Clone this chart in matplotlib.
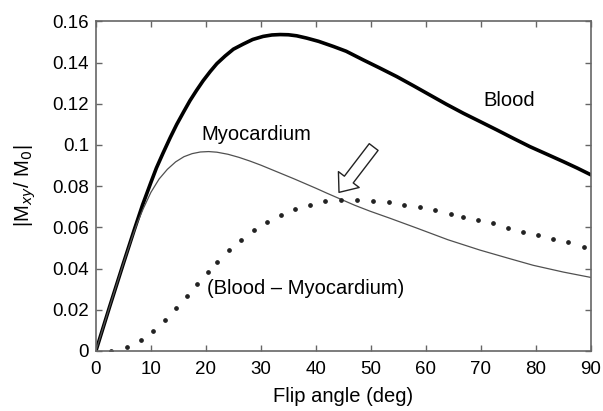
import numpy as np
import matplotlib.pyplot as plt

plt.rcParams['font.family'] = ['Liberation Sans', 'DejaVu Sans']

# Blood (thick line)
blood_angle = [0, 2.5, 5.0, 7.0, 8.5, 10.0, 11.0, 12.2, 13.5, 14.7, 16.0, 17.1, 18.3,
               19.5, 20.8, 22.0, 23.5, 25.0, 26.8, 28.5, 30.4, 32.0, 33.5, 35.0, 36.5,
               38.3, 40.5, 43.2, 45.5, 48.6, 51.5, 54.7, 57.7, 60.7, 63.7, 66.8, 69.9,
               72.9, 75.9, 78.9, 82.0, 85.0, 87.5, 90]
blood_sig = [0, 0.0215, 0.0425, 0.0590, 0.0710, 0.0818, 0.0888, 0.0960, 0.1035, 0.1100,
             0.1163, 0.1215, 0.1265, 0.1312, 0.1357, 0.1395, 0.1432, 0.1465, 0.1490,
             0.1512, 0.1527, 0.1534, 0.1536, 0.1535, 0.1530, 0.1519, 0.1503, 0.1478,
             0.1455, 0.1413, 0.1375, 0.1332, 0.1288, 0.1243, 0.1198, 0.1154, 0.1113,
             0.1073, 0.1032, 0.0992, 0.0955, 0.0919, 0.0888, 0.0855]

# Myocardium (thin line)
myo_angle = [0, 2.5, 5.0, 6.5, 7.5, 8.6, 10.0, 11.5, 13.0, 14.5, 16.0, 17.5, 19.0, 20.5,
             22.0, 24.0, 26.0, 28.0, 30.0, 32.0, 34.0, 36.0, 38.0, 40.0, 42.0, 44.5,
             47.0, 49.8, 53.5, 58.3, 64.0, 69.8, 75.0, 79.5, 85.0, 90]
myo_sig = [0, 0.0215, 0.0425, 0.0545, 0.0620, 0.0690, 0.0770, 0.0835, 0.0882, 0.0918,
           0.0943, 0.0958, 0.0966, 0.0968, 0.0965, 0.0955, 0.0940, 0.0922, 0.0902,
           0.0880, 0.0858, 0.0836, 0.0813, 0.0790, 0.0766, 0.0737, 0.0708, 0.0679,
           0.0644, 0.0597, 0.0540, 0.0490, 0.0450, 0.0416, 0.0383, 0.0357]

# Blood - Myocardium (dots)
diff_angle = [2.8, 5.7, 8.2, 10.4, 12.6, 14.5, 16.5, 18.4, 20.3, 22.1, 24.2, 26.4,
              28.7, 31.1, 33.6, 36.2, 38.9, 41.7, 44.5, 47.4, 50.3, 53.3, 56.1, 58.9,
              61.7, 64.5, 66.7, 69.5, 72.2, 74.9, 77.7, 80.4, 83.1, 85.9, 88.7]
diff_sig = [0.0, 0.0021, 0.0052, 0.0099, 0.0151, 0.0209, 0.0267, 0.0324, 0.0382, 0.0434,
            0.0490, 0.0540, 0.0588, 0.0628, 0.0662, 0.0688, 0.0709, 0.0726, 0.0731,
            0.0731, 0.0726, 0.0721, 0.0708, 0.0700, 0.0682, 0.0664, 0.0651, 0.0638,
            0.0619, 0.0599, 0.0580, 0.0563, 0.0544, 0.0527, 0.0507]

fig = plt.figure(figsize=(6.03, 4.11), dpi=100)
ax = fig.add_axes([0.159, 0.146, 0.821, 0.802])

ax.plot(blood_angle, blood_sig, color='black', lw=2.6, solid_capstyle='round',
        solid_joinstyle='round')
ax.plot(myo_angle, myo_sig, color='#505050', lw=0.9)
ax.plot(diff_angle, diff_sig, ls='none', marker='o', ms=2.4, color='#222222')

ax.text(70.5, 0.1216, 'Blood', fontsize=14.5, va='center')
ax.text(19.2, 0.1049, 'Myocardium', fontsize=14.5, va='center')
ax.text(20.2, 0.0305, '(Blood \u2013 Myocardium)', fontsize=14.5, va='center')

ax.annotate('', xy=(44.2, 0.0770), xytext=(50.5, 0.0990),
            arrowprops=dict(arrowstyle='simple,head_length=0.58,head_width=0.94,tail_width=0.4',
                            fc='white', ec='#222222', lw=1, mutation_scale=20,
                            shrinkA=0, shrinkB=0))

ax.set_xlim(0, 90)
ax.set_ylim(0, 0.16)
ax.set_xticks(np.arange(0, 91, 10))
ax.set_yticks(np.arange(0, 0.161, 0.02))
ax.set_yticklabels(['0', '0.02', '0.04', '0.06', '0.08', '0.1', '0.12', '0.14', '0.16'])
ax.tick_params(direction='in', top=True, right=True, length=4, width=1,
               color='#666666', labelsize=13.5)
ax.tick_params(axis='x', pad=7)
ax.tick_params(axis='y', pad=5)
for s in ax.spines.values():
    s.set_color('#666666')
    s.set_linewidth(1.2)

ax.set_xlabel('Flip angle (deg)', fontsize=14.5, labelpad=7)
ax.set_ylabel('|M$_{xy}$/ M$_0$|', fontsize=14.5, labelpad=10)

fig.savefig('out.png', dpi=100)
